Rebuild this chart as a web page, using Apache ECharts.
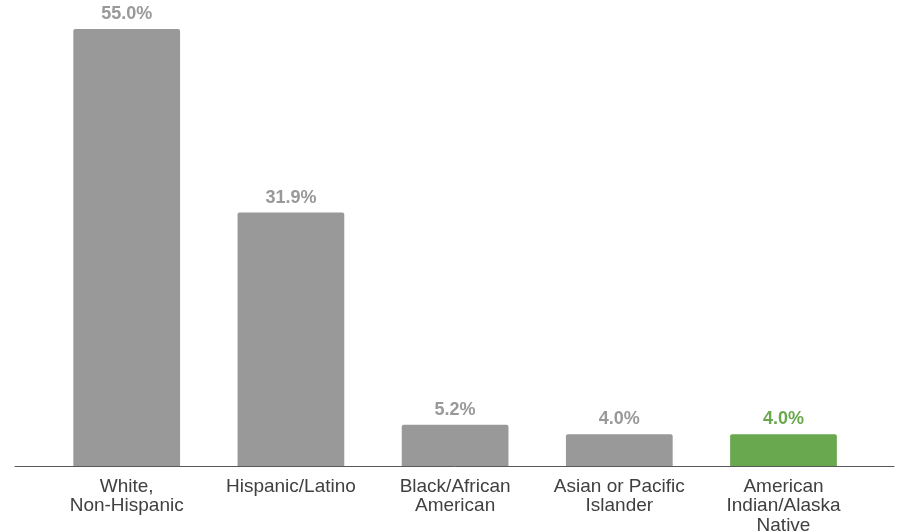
<!DOCTYPE html>
<html><head><meta charset="utf-8">
<script src="https://cdn.jsdelivr.net/npm/echarts@6/dist/echarts.min.js"></script>
<style>html,body{margin:0;padding:0;background:#fff}#c{width:900px;height:532px}</style>
</head><body><div id="c"></div>
<script>
const categories = ['White,\nNon-Hispanic', 'Hispanic/Latino', 'Black/African\nAmerican', 'Asian or Pacific\nIslander', 'American\nIndian/Alaska\nNative'];
const values = [55.0, 31.9, 5.2, 4.0, 4.0];
const highlightIndex = 4;

const gray = '#999999', green = '#6aa84f';
const chart = echarts.init(document.getElementById('c'));
chart.setOption({
  animation: false,
  grid: [
    {left: 44.6, right: 34.4, top: 29, bottom: 66, containLabel: false, outerBoundsMode: 'none'},
    {left: 15, right: 6, top: 29, bottom: 66, containLabel: false, outerBoundsMode: 'none'}
  ],
  xAxis: [
    {type: 'category', gridIndex: 0, data: categories,
     axisLine: {show: false}, axisTick: {show: false},
     axisLabel: {interval: 0, color: '#404040', fontFamily: 'Liberation Sans, Arial', fontSize: 19, lineHeight: 19.5, margin: 11}},
    {type: 'value', gridIndex: 1, min: 0, max: 1, axisLine: {show: true, lineStyle: {color: '#595959', width: 1}},
     axisTick: {show: false}, axisLabel: {show: false}, splitLine: {show: false}}
  ],
  yAxis: [
    {type: 'value', gridIndex: 0, min: 0, max: 55, show: false},
    {type: 'value', gridIndex: 1, min: 0, max: 1, show: false}
  ],
  series: [{
    type: 'bar', xAxisIndex: 0, yAxisIndex: 0, barWidth: '65%', z: 1,
    data: values.map((v, i) => ({
      value: v,
      itemStyle: {color: i === highlightIndex ? green : gray, borderRadius: [2, 2, 0, 0]},
      label: {color: i === highlightIndex ? green : gray}
    })),
    label: {show: true, position: 'top', distance: 6, fontFamily: 'Liberation Sans, Arial', fontSize: 18, fontWeight: 'bold',
      formatter: p => p.value.toFixed(1) + '%'}
  }]
});
</script></body></html>
